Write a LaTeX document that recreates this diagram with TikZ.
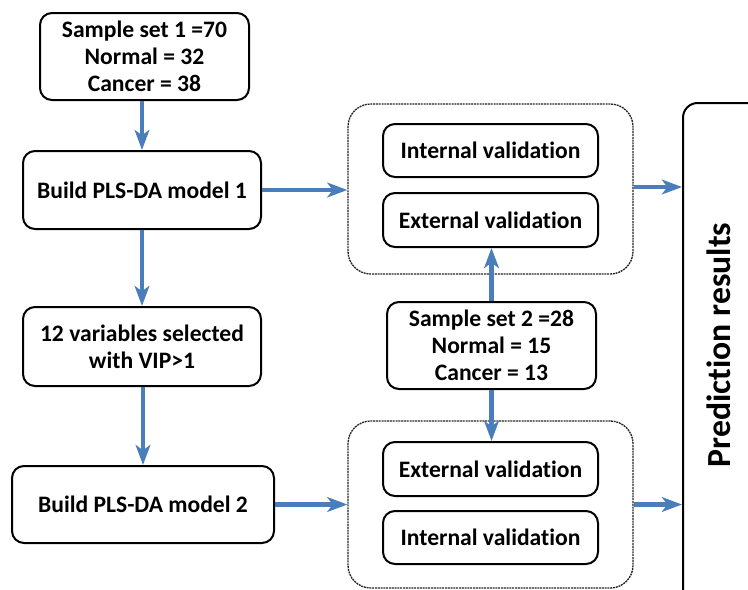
\documentclass[tikz,border=0pt]{standalone}
\usepackage{fontspec}
\setmainfont{Carlito}[RawFeature={-liga;-clig;-calt;-dlig}]
\usetikzlibrary{arrows.meta}
\definecolor{arrowblue}{RGB}{74,126,187}
\newcommand{\tiNoLig}{t\kern0pt i}
\tikzset{
  box/.style={draw=black, line width=1.5pt, rounded corners=9pt, fill=white, align=center, inner sep=0pt,
    font=\fontsize{17.7pt}{20.3pt}\selectfont\bfseries},
  group/.style={draw=black!85, line width=1pt, dash pattern=on 1.5pt off 0.6pt, rounded corners=17pt, inner sep=0pt},
  flow/.style={draw=arrowblue, line width=3.4pt, -{Stealth[length=15pt, width=11pt, inset=4pt]}},
}
\begin{document}
\begin{tikzpicture}[x=0.75pt, y=-0.75pt]
\useasboundingbox (0,0) rectangle (748,589);
\clip (0,0) rectangle (748,589);
% left column
\node[box, minimum width=156.75pt, minimum height=65.25pt] (s1) at (144.5,56.5) {Sample set 1 =70\\Normal = 32\\Cancer = 38};
\node[box, minimum width=178.5pt, minimum height=58.5pt] (m1) at (142,190) {Build PLS-DA model 1};
\node[box, minimum width=178.5pt, minimum height=59.25pt] (vip) at (142,346.5) {12 variables selected\\with VIP>1};
\node[box, minimum width=196.5pt, minimum height=57.75pt] (m2) at (143,504.5) {Build PLS-DA model 2};
% groups
\node[group, minimum width=213.75pt, minimum height=127.5pt] (g1) at (490.5,189) {};
\node[group, minimum width=213.75pt, minimum height=125.25pt] (g2) at (490.5,504.5) {};
\node[box, minimum width=161.25pt, minimum height=39.75pt] (in1) at (490.5,150.5) {Internal valida\tiNoLig on};
\node[box, minimum width=161.25pt, minimum height=40.5pt] (ex1) at (490.5,220) {External valida\tiNoLig on};
\node[box, minimum width=161.25pt, minimum height=40.5pt] (ex2) at (490.5,469) {External valida\tiNoLig on};
\node[box, minimum width=161.25pt, minimum height=39.75pt] (in2) at (490.5,537.5) {Internal valida\tiNoLig on};
\node[box, minimum width=156.75pt, minimum height=65.25pt] (s2) at (491.5,345.5) {Sample set 2 =28\\Normal = 15\\Cancer = 13};
% prediction results
\node[box, rounded corners=11pt, minimum width=87.75pt, minimum height=410.25pt] (pred) at (741.5,376.5) {};
\node[rotate=90, inner sep=0pt, font=\fontsize{25.3pt}{30pt}\selectfont\bfseries] (predtext) at (719,345) {Predic\tiNoLig on results};
% connectors
\draw[flow] (s1.south -| m1.north) -- (m1.north);
\draw[flow] (m1) -- (vip);
\draw[flow] (vip.south -| m2.north) -- (m2.north);
\draw[flow] (m1.east) -- (m1.east -| g1.west);
\draw[flow] (m2.east) -- (m2.east -| g2.west);
\draw[flow] (s2.north) -- (s2.north |- ex1.south);
\draw[flow] (s2.south) -- (s2.south |- ex2.north);
\draw[flow] ([yshift=1.5pt]g1.east) -- ([yshift=1.5pt]g1.east -| pred.west);
\draw[flow] (g2.east) -- (g2.east -| pred.west);
\end{tikzpicture}
\end{document}
